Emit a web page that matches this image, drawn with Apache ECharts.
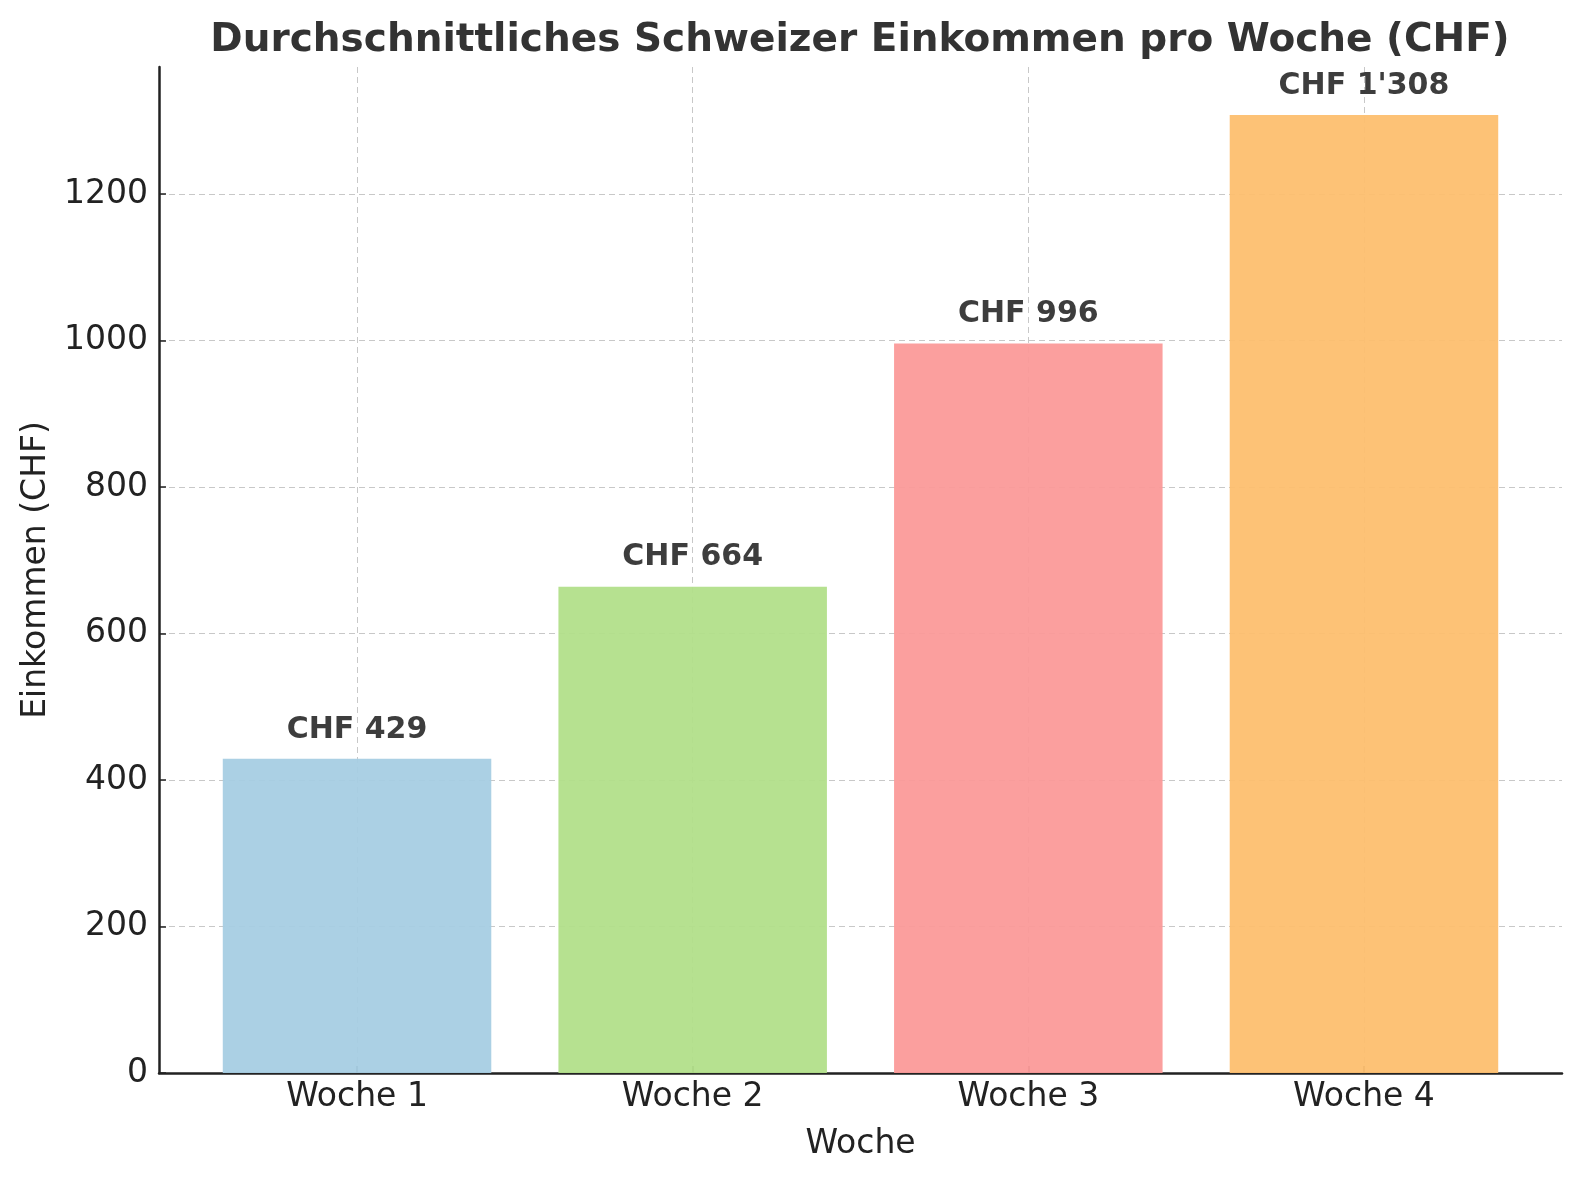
<!DOCTYPE html>
<html>
<head>
<meta charset="utf-8">
<script src="https://cdn.jsdelivr.net/npm/echarts@6/dist/echarts.min.js"></script>
<style>
  html, body { margin: 0; padding: 0; background: #fff; }
  #chart { width: 1580px; height: 1180px; }
</style>
</head>
<body>
<div id="chart"></div>
<script>
const categories = ['Woche 1', 'Woche 2', 'Woche 3', 'Woche 4'];
const incomes = [429, 664, 996, 1308];
const barColors = ['#a6cee3', '#b2df8a', '#fb9a99', '#fdbf6f'];
const yTicks = [0, 200, 400, 600, 800, 1000, 1200];
const xTicks = [0, 1, 2, 3];

// Schweizer Tausendertrennzeichen
function chf(v) {
  return 'CHF ' + String(v).replace(/\B(?=(\d{3})+(?!\d))/g, "'");
}

const chart = echarts.init(document.getElementById('chart'));
const font = 'DejaVu Sans';

chart.setOption({
  animation: false,
  title: {
    text: 'Durchschnittliches Schweizer Einkommen pro Woche (CHF)',
    left: 855,
    textAlign: 'center',
    top: 16,
    textStyle: { fontFamily: font, fontSize: 39, fontWeight: 'bold', color: '#333' }
  },
  grid: { left: 159, right: 18, top: 67, bottom: 107 },
  xAxis: {
    type: 'value',
    min: -0.59,
    max: 3.59,
    name: 'Woche',
    nameLocation: 'middle',
    nameGap: 55,
    nameTextStyle: { fontFamily: font, fontSize: 33, color: '#222' },
    axisLine: { onZero: false, lineStyle: { color: '#222', width: 2.5 } },
    axisTick: { inside: true, length: 7, customValues: xTicks, lineStyle: { color: '#222', width: 1.5 } },
    axisLabel: {
      customValues: xTicks,
      margin: 8,
      fontFamily: font, fontSize: 33, color: '#222',
      formatter: v => categories[v]
    },
    splitLine: { show: true, lineStyle: { color: '#c8c8c8', type: [6, 4], width: 1 } }
  },
  yAxis: {
    type: 'value',
    min: 0,
    max: 1373.4,
    name: 'Einkommen (CHF)',
    nameLocation: 'middle',
    nameGap: 96,
    nameTextStyle: { fontFamily: font, fontSize: 33, color: '#222' },
    axisLine: { show: true, onZero: false, lineStyle: { color: '#222', width: 2.5 } },
    axisTick: { show: true, inside: true, length: 7, customValues: yTicks, lineStyle: { color: '#222', width: 1.5 } },
    axisLabel: {
      customValues: yTicks, margin: 11,
      fontFamily: font, fontSize: 33, color: '#222',
      formatter: v => String(v)
    },
    splitLine: { show: true, lineStyle: { color: '#c8c8c8', type: [6, 4], width: 1 } }
  },
  series: [{
    type: 'bar',
    barWidth: '80%',
    data: incomes.map((v, i) => ({
      value: [i, v],
      itemStyle: { color: barColors[i], opacity: 0.95 }
    })),
    label: {
      show: true,
      position: 'top',
      distance: 14,
      fontFamily: font, fontSize: 30, fontWeight: 'bold', color: '#333',
      formatter: p => chf(p.value[1])
    }
  }]
});
</script>
</body>
</html>
